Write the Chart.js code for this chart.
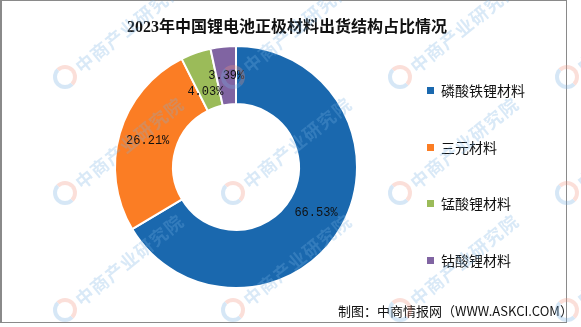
<!DOCTYPE html>
<html lang="zh">
<head>
    <meta charset="UTF-8">
    <title>2023年中国锂电池正极材料出货结构占比情况</title>
    <script src="https://cdn.jsdelivr.net/npm/chart.js@4.4.1/dist/chart.umd.min.js"></script>
    <style>
        body { margin: 0; background: #fff; }
        .wrap { position: relative; width: 581px; height: 327px; overflow: hidden; font-family: "Noto Sans CJK SC", sans-serif; }
        .wrap canvas { position: absolute; left: 0; top: 0; }
        .frame { position: absolute; left: 0; top: 0; width: 567px; height: 323px; border: 1px solid #8a8a8a; border-left-width: 2px; box-sizing: border-box; }
        .title { position: absolute; left: 0; top: 13px; width: 574px; text-align: center; font-size: 16px; font-weight: bold; color: #111;
                 font-family: "Liberation Serif", "Noto Sans CJK SC", serif; }
        .legend { position: absolute; left: 427px; top: 0; }
        .legend-item { position: absolute; left: 0; white-space: nowrap; font-size: 14px; color: #111; line-height: 20px; }
        .legend-item i { position: absolute; left: 0; top: 7px; width: 7px; height: 7px; }
        .legend-item span { position: absolute; left: 14px; top: 0; }
        .source { position: absolute; left: 338px; top: 301px; font-size: 13px; color: #111; white-space: nowrap; }
        .wm { position: absolute; pointer-events: none; color: rgba(120, 175, 225, 0.28); font-size: 18px; font-weight: bold;
              transform-origin: 0 50%; transform: rotate(-39deg); white-space: nowrap; letter-spacing: 1px; }
        .logo { position: absolute; pointer-events: none; width: 16px; height: 16px; border-radius: 50%;
                border: 4px solid rgba(120, 175, 225, 0.3); border-right-color: rgba(240, 150, 130, 0.3); border-top-color: rgba(240, 150, 130, 0.3); }
    </style>
</head>
<body>
    <div class="wrap" id="wrap">
        <canvas id="shareChart" width="581" height="327"></canvas>
        <div class="frame"></div>
        <div class="title">2023年中国锂电池正极材料出货结构占比情况</div>
        <div class="legend" id="legend"></div>
        <div class="source">制图：中商情报网（WWW.ASKCI.COM）</div>
    </div>

    <script>
        // Shipment share by cathode material, percent
        const materials = ['磷酸铁锂材料', '三元材料', '锰酸锂材料', '钴酸锂材料'];
        const shares = [66.53, 26.21, 4.03, 3.39];
        const colors = ['#1a68ae', '#fb7d24', '#9bbb59', '#8064a2'];

        // Build the legend on the right
        const legendEl = document.getElementById('legend');
        materials.forEach((name, i) => {
            const item = document.createElement('div');
            item.className = 'legend-item';
            item.style.top = (80 + i * 56.7) + 'px';
            item.innerHTML = `<i style="background:${colors[i]}"></i><span>${name}</span>`;
            legendEl.appendChild(item);
        });

        // Percent labels at each slice centre, nudged down when they collide
        const sliceLabels = {
            id: 'sliceLabels',
            afterDatasetsDraw(chart) {
                const ctx = chart.ctx;
                const arcs = chart.getDatasetMeta(0).data;
                const placed = [];
                ctx.save();
                ctx.font = '12px "Liberation Mono", monospace';
                ctx.fillStyle = '#111';
                ctx.textAlign = 'center';
                ctx.textBaseline = 'middle';
                for (let i = arcs.length - 1; i >= 0; i--) {
                    const pos = arcs[i].tooltipPosition();
                    const text = shares[i].toFixed(2) + '%';
                    const w = ctx.measureText(text).width;
                    let y = pos.y;
                    placed.forEach(p => {
                        if (Math.abs(p.x - pos.x) < (p.w + w) / 2 && Math.abs(p.y - y) < 14) {
                            y = p.y + 16;
                        }
                    });
                    placed.push({ x: pos.x, y: y, w: w });
                    ctx.fillText(text, pos.x, y);
                }
                ctx.restore();
            }
        };

        new Chart(document.getElementById('shareChart'), {
            type: 'doughnut',
            data: {
                labels: materials,
                datasets: [{
                    data: shares,
                    backgroundColor: colors,
                    borderColor: '#ffffff',
                    borderWidth: 2
                }]
            },
            options: {
                responsive: false,
                animation: false,
                cutout: '52%',
                layout: {
                    padding: { left: 114, right: 223, top: 45, bottom: 38 }
                },
                plugins: {
                    legend: { display: false },
                    tooltip: { enabled: false },
                    title: { display: false }
                }
            },
            plugins: [sliceLabels]
        });

        // Faint diagonal site watermarks
        const wrap = document.getElementById('wrap');
        [65, 233, 400, 567].forEach(x => {
            [77, 193, 310].forEach(y => {
                const logo = document.createElement('div');
                logo.className = 'logo';
                logo.style.left = (x - 12) + 'px';
                logo.style.top = (y - 12) + 'px';
                wrap.appendChild(logo);
                const t = document.createElement('div');
                t.className = 'wm';
                t.textContent = '中商产业研究院';
                t.style.left = (x + 12) + 'px';
                t.style.top = (y - 22) + 'px';
                wrap.appendChild(t);
            });
        });
    </script>
</body>
</html>
